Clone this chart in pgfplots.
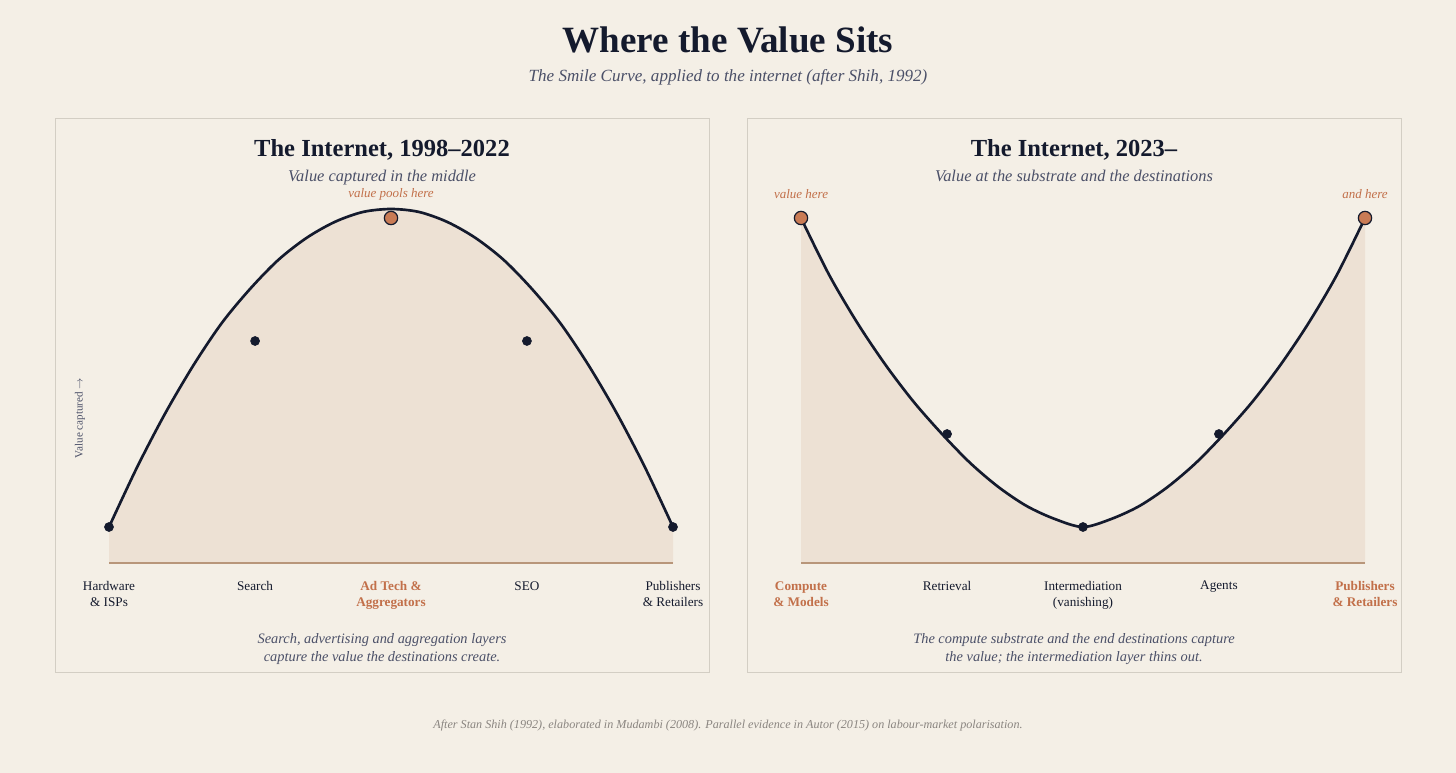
\documentclass[border=0pt]{standalone}
\usepackage{pgfplots}
\pgfplotsset{compat=1.18}
\usepackage{fontspec}
\setmainfont{Liberation Serif}
\definecolor{bg}{HTML}{F4EFE6}
\definecolor{fillc}{HTML}{EDE1D4}
\definecolor{border}{HTML}{D3CEC4}
\definecolor{navy}{HTML}{141A2D}
\definecolor{sub}{HTML}{4B5068}
\definecolor{accent}{HTML}{C2704A}
\definecolor{accentdot}{HTML}{C97B55}
\definecolor{basec}{HTML}{B8967A}
\definecolor{foot}{HTML}{8A8580}
\newcommand\acc[1]{\textcolor{accent}{\textbf{#1}}}
\pgfplotstableread{
u v
0 36
0.05 96
0.1 150
0.15 198
0.2 240
0.25 274
0.3 303
0.35 325
0.4 341
0.45 351
0.5 354
0.55 351
0.6 341
0.65 325
0.7 303
0.75 274
0.8 240
0.85 198
0.9 150
0.95 96
1 36
}\leftcurve
\pgfplotstableread{
u v
0 345
0.05 288
0.1 240
0.15 198
0.2 161
0.25 129
0.3 100
0.35 76
0.4 57
0.45 44
0.5 36
0.55 44
0.6 57
0.65 76
0.7 100
0.75 129
0.8 161
0.85 198
0.9 240
0.95 288
1 345
}\rightcurve
\pgfplotsset{
  panel/.style={
    anchor=south west, scale only axis, width=423pt, height=270pt,
    xmin=0, xmax=1, ymin=0, ymax=360,
    axis line style={draw=none}, tick style={draw=none}, ytick=\empty,
    xtick={0,0.259,0.5,0.741,1},
    xticklabel style={anchor=north, inner sep=0pt, yshift=-13.5pt, align=center,
      font=\fontsize{9.9}{12}\selectfont, text=navy},
    clip=false,
  }
}
\begin{document}
\begin{tikzpicture}
\def\PX{0.75pt}
\useasboundingbox (0,0) rectangle (1092pt,-579.75pt);
\fill[bg] (0,0) rectangle (1092pt,-579.75pt);
\draw[border, line width=0.75pt] (55*\PX,-119*\PX) rectangle (709*\PX,-672*\PX);
\draw[border, line width=0.75pt] (747*\PX,-119*\PX) rectangle (1401*\PX,-672*\PX);
% titles
\node[anchor=base, inner sep=0pt, text=navy, font=\fontsize{27.8}{32}\selectfont\bfseries] at (728*\PX,-53*\PX) {Where the Value Sits};
\node[anchor=base, inner sep=0pt, text=sub, font=\fontsize{12.8}{15}\selectfont\itshape] at (728*\PX,-82*\PX) {The Smile Curve, applied to the internet (after Shih, 1992)};
% left panel texts
\node[anchor=base, inner sep=0pt, text=navy, font=\fontsize{18.4}{21}\selectfont\bfseries] at (382*\PX,-157*\PX) {The Internet, 1998–2022};
\node[anchor=base, inner sep=0pt, text=sub, font=\fontsize{12.3}{14}\selectfont\itshape] at (382*\PX,-182*\PX) {Value captured in the middle};
\node[anchor=base, inner sep=0pt, text=accent, font=\fontsize{9.75}{11}\selectfont\itshape] at (391*\PX,-198*\PX) {value pools here};
\node[rotate=90, inner sep=0pt, text=sub, font=\fontsize{8.3}{10}\selectfont] at (80*\PX,-418*\PX) {Value captured $\rightarrow$};
\node[align=center, inner sep=0pt, text=sub, font=\fontsize{10.8}{12.9}\selectfont\itshape] at (382*\PX,-649*\PX) {Search, advertising and aggregation layers\\capture the value the destinations create.};
% right panel texts
\node[anchor=base, inner sep=0pt, text=navy, font=\fontsize{18.4}{21}\selectfont\bfseries] at (1074*\PX,-157*\PX) {The Internet, 2023–};
\node[anchor=base, inner sep=0pt, text=sub, font=\fontsize{12.3}{14}\selectfont\itshape] at (1074*\PX,-182*\PX) {Value at the substrate and the destinations};
\node[anchor=base, inner sep=0pt, text=accent, font=\fontsize{9.75}{11}\selectfont\itshape] at (801*\PX,-199*\PX) {value here};
\node[anchor=base, inner sep=0pt, text=accent, font=\fontsize{9.75}{11}\selectfont\itshape] at (1365*\PX,-199*\PX) {and here};
\node[align=center, inner sep=0pt, text=sub, font=\fontsize{10.8}{12.9}\selectfont\itshape] at (1074*\PX,-649*\PX) {The compute substrate and the end destinations capture\\the value; the intermediation layer thins out.};
% footer
\node[anchor=base, inner sep=0pt, text=foot, font=\fontsize{9.1}{10}\selectfont\itshape] at (728*\PX,-728*\PX) {After Stan Shih (1992), elaborated in Mudambi (2008). Parallel evidence in Autor (2015) on labour-market polarisation.};

\begin{axis}[panel, at={(81.75pt,-422.25pt)},
  xticklabels={{Hardware\\\& ISPs},{Search},{\acc{Ad Tech \&}\\\acc{Aggregators}},{SEO},{Publishers\\\& Retailers}}]
\addplot[draw=none, fill=fillc, smooth] table[x=u,y=v] {\leftcurve} \closedcycle;
\addplot[basec, line width=1.1pt] coordinates {(0,0) (1,0)};
\addplot[navy, line width=2pt, smooth] table[x=u,y=v] {\leftcurve};
\addplot[only marks, mark=*, mark size=3.4pt, navy] coordinates {(0,36) (0.259,222) (0.741,222) (1,36)};
\addplot[only marks, mark=*, mark size=5pt, mark options={fill=accentdot, draw=navy, line width=0.9pt}] coordinates {(0.5,345)};
\end{axis}

\begin{axis}[panel, at={(600.75pt,-422.25pt)},
  xticklabels={{\acc{Compute}\\\acc{\& Models}},{Retrieval},{Intermediation\\(vanishing)},{Agents},{\acc{Publishers}\\\acc{\& Retailers}}}]
\addplot[draw=none, fill=fillc, smooth] table[x=u,y=v] {\rightcurve} \closedcycle;
\addplot[basec, line width=1.1pt] coordinates {(0,0) (1,0)};
\addplot[navy, line width=2pt, smooth] table[x=u,y=v] {\rightcurve};
\addplot[only marks, mark=*, mark size=3.4pt, navy] coordinates {(0.259,129) (0.5,36) (0.741,129)};
\addplot[only marks, mark=*, mark size=5pt, mark options={fill=accentdot, draw=navy, line width=0.9pt}] coordinates {(0,345) (1,345)};
\end{axis}
\end{tikzpicture}
\end{document}
